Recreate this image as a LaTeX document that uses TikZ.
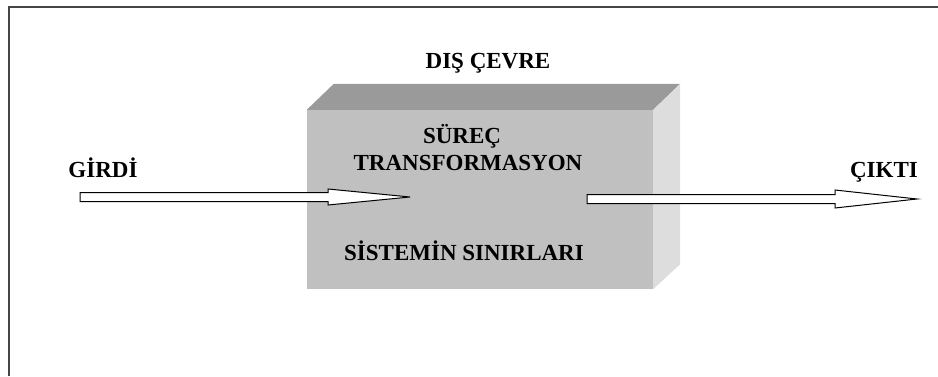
\documentclass[tikz,border=0pt]{standalone}
\usepackage{fontspec}
\setmainfont{Liberation Serif}
\usetikzlibrary{calc}
\definecolor{frontgray}{HTML}{C0C0C0}
\definecolor{topgray}{HTML}{9A9A9A}
\definecolor{sidegray}{HTML}{DDDDDD}
\definecolor{framegray}{HTML}{454545}
\newcommand{\depth}{27}
% hollow arrow: tail, tip, start of head, half shaft, half head
\newcommand{\hollowarrow}[5]{%
  \draw[arrowline] ($(#1)+(0,#4)$) -- ($(#3)+(0,#4)$) -- ($(#3)+(0,#5)$) -- (#2)
    -- ($(#3)+(0,-#5)$) -- ($(#3)+(0,-#4)$) -- ($(#1)+(0,-#4)$) -- cycle;}

\begin{document}
\begin{tikzpicture}[x=1pt, y=1pt,
    label/.style={font=\bfseries\fontsize{23}{26}\selectfont, anchor=base, inner sep=0pt},
    face/.style={draw=none, inner sep=0pt},
    arrowline/.style={draw=black, fill=white, line width=1pt, line join=miter},
    frame/.style={draw=framegray, line width=2pt}]
    \useasboundingbox (0,0) rectangle (938,376);

    % frame
    \draw[frame] (9,0) -- (9,369) -- (938,369);

    % box
    \node[face, fill=frontgray, minimum width=346, minimum height=179] (front) at (480,176.5) {};
    \fill[topgray] (front.north west) -- ++(\depth,26) -- ($(front.north east)+(\depth,26)$) -- (front.north east) -- cycle;
    \fill[sidegray] (front.north east) -- ++(\depth,26) -- ($(front.south east)+(\depth,25)$) -- (front.south east) -- cycle;

    % texts
    \node[label] (dis)    at (488,308) {DIŞ ÇEVRE};
    \node[label] (surec)  at (462,233) {SÜREÇ};
    \node[label] (trans)  at (468,206) {TRANSFORMASYON};
    \node[label] (sinir)  at (464,116) {SİSTEMİN SINIRLARI};
    \node[label] (girdi)  at (103,199) {GİRDİ};
    \node[label] (cikti)  at (884,199) {ÇIKTI};

    % arrows
    \coordinate (girdi-tail) at (80,179);
    \coordinate (girdi-tip)  at (410,179);
    \coordinate (girdi-head) at (328,179);
    \coordinate (cikti-tail) at (587,177);
    \coordinate (cikti-tip)  at (917,177);
    \coordinate (cikti-head) at (835,177);
    \hollowarrow{girdi-tail}{girdi-tip}{girdi-head}{4.5}{8}
    \hollowarrow{cikti-tail}{cikti-tip}{cikti-head}{4.5}{9}

\end{tikzpicture}
\end{document}
